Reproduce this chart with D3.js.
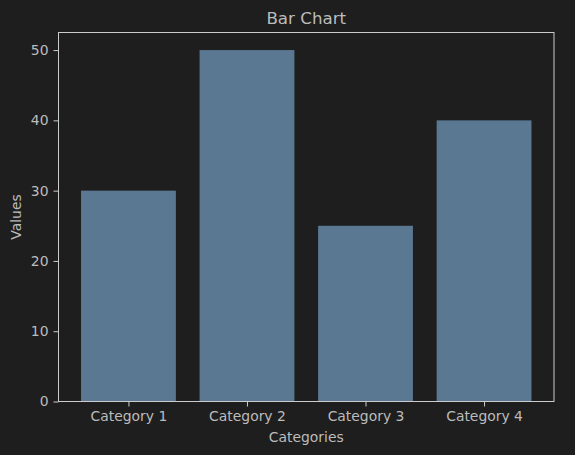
<!DOCTYPE html>
<html>
<head>
<meta charset="utf-8">
<script src="https://cdn.jsdelivr.net/npm/d3@7"></script>
<style>
  html, body { margin: 0; padding: 0; background: #1e1e1e; }
  svg { display: block; }
  text { font-family: "DejaVu Sans", sans-serif; fill: #bcbcbc; }
</style>
</head>
<body>
<svg id="chart"></svg>
<script>
const categories = ['Category 1', 'Category 2', 'Category 3', 'Category 4'];
const values = [30, 50, 25, 40];
const yTicks = [0, 10, 20, 30, 40, 50];

const width = 575;
const height = 455;
const margin = { top: 32.5, right: 21, bottom: 53.5, left: 58.5 };

const svg = d3.select('#chart')
  .attr('width', width)
  .attr('height', height);

svg.append('rect')
  .attr('width', width)
  .attr('height', height)
  .attr('fill', '#1e1e1e');

const innerW = width - margin.left - margin.right;
const innerH = height - margin.top - margin.bottom;

const g = svg.append('g')
  .attr('transform', `translate(${margin.left},${margin.top})`);

// matplotlib-like: bar width 0.8, 5% margins
const n = categories.length;
const lo = -0.4 - 0.05 * (n - 1 + 0.8);
const hi = n - 1 + 0.4 + 0.05 * (n - 1 + 0.8);
const x = d3.scaleLinear().domain([lo, hi]).range([0, innerW]);
const y = d3.scaleLinear().domain([0, 52.5]).range([innerH, 0]);

g.selectAll('rect.bar')
  .data(values)
  .enter()
  .append('rect')
  .attr('class', 'bar')
  .attr('x', (d, i) => x(i - 0.4))
  .attr('width', (d, i) => x(i + 0.4) - x(i - 0.4))
  .attr('y', d => y(d))
  .attr('height', d => y(0) - y(d))
  .attr('fill', '#5a7891');

const xAxis = g.append('g')
  .attr('transform', `translate(0,${innerH})`)
  .call(d3.axisBottom(x).tickValues(d3.range(n)).tickFormat(i => categories[i]).tickSize(5).tickPadding(5));

const yAxis = g.append('g')
  .call(d3.axisLeft(y).tickValues(yTicks).tickSize(5).tickPadding(5));

[xAxis, yAxis].forEach(a => {
  a.select('.domain').remove();
  a.selectAll('line').attr('stroke', '#cccccc');
  a.selectAll('text').attr('fill', '#bcbcbc').style('font-size', '13.9px').style('font-family', '"DejaVu Sans", sans-serif');
});

g.append('rect')
  .attr('width', innerW)
  .attr('height', innerH)
  .attr('fill', 'none')
  .attr('stroke', '#cccccc')
  .attr('stroke-width', 1);

svg.append('text')
  .attr('x', margin.left + innerW / 2)
  .attr('y', 23.5)
  .attr('text-anchor', 'middle')
  .style('font-size', '16.7px')
  .text('Bar Chart');

svg.append('text')
  .attr('x', margin.left + innerW / 2)
  .attr('y', 442)
  .attr('text-anchor', 'middle')
  .style('font-size', '13.9px')
  .text('Categories');

svg.append('text')
  .attr('transform', `translate(21,${margin.top + innerH / 2}) rotate(-90)`)
  .attr('text-anchor', 'middle')
  .style('font-size', '13.9px')
  .text('Values');
</script>
</body>
</html>
